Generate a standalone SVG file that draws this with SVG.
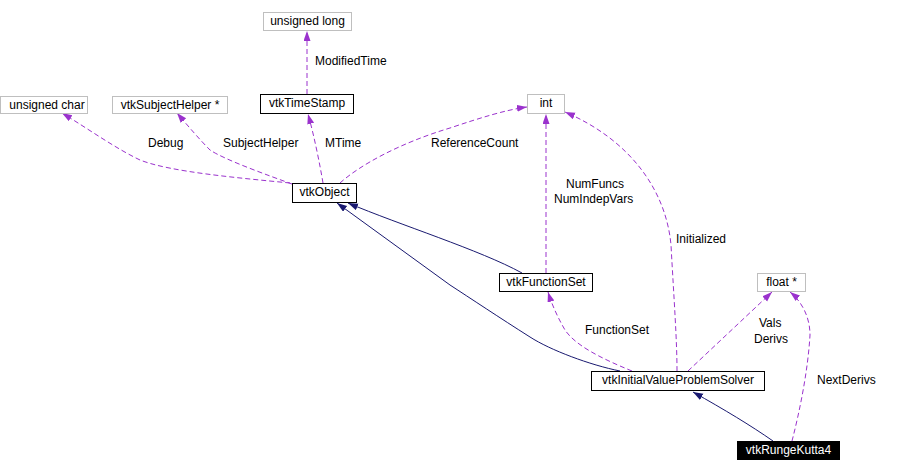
<svg xmlns="http://www.w3.org/2000/svg" width="902" height="472" viewBox="0 0 902 472">
<style>
text{font-family:"Liberation Sans",Arial,sans-serif;font-size:12px;fill:#000}
.c{text-anchor:middle}
.g{fill:#fff;stroke:#bfbfbf;stroke-width:1}
.b{fill:#fff;stroke:#000;stroke-width:1}
.d{fill:none;stroke:#9a32cd;stroke-width:1;stroke-dasharray:5,3;marker-end:url(#ap)}
.s{fill:none;stroke:#191970;stroke-width:1;marker-end:url(#an)}
</style>
<defs>
<marker id="ap" markerUnits="userSpaceOnUse" markerWidth="11" markerHeight="8" refX="10" refY="3.5" orient="auto"><path d="M0,0 L10,3.5 L0,7 z" fill="#9a32cd"/></marker>
<marker id="an" markerUnits="userSpaceOnUse" markerWidth="11" markerHeight="8" refX="10" refY="3.5" orient="auto"><path d="M0,0 L10,3.5 L0,7 z" fill="#191970"/></marker>
</defs>
<rect width="902" height="472" fill="#fff"/>
<g id="edges">
<path class="d" d="M307,94 L307,31"/>
<path class="d" d="M290,183 C240,178 170,172 140,160 C115,148 90,130 62,113"/>
<path class="d" d="M292,184 C270,176 225,160 210,150 C200,140 188,126 177,113"/>
<path class="d" d="M323,183 C320,165 314,135 308,114"/>
<path class="d" d="M340,183 C360,165 400,143 450,128 C480,118 505,110 527,107"/>
<path class="d" d="M546,273 L546,114"/>
<path class="d" d="M677,371 C677,340 674,300 671,245 C666,190 630,140 565,112"/>
<path class="d" d="M632,371 C600,358 575,345 565,330 C558,318 552,305 548,292"/>
<path class="d" d="M688,371 L772,292"/>
<path class="d" d="M792,441 C800,410 808,370 810,335 C810,315 800,300 790,292"/>
<path class="s" d="M522,273 C480,250 400,225 348,203"/>
<path class="s" d="M620,371 C590,365 550,350 530,337 C500,318 470,298 450,285 L337,203"/>
<path class="s" d="M773,441 C750,425 725,410 693,392"/>
<text x="315" y="65">ModifiedTime</text>
<text x="148" y="147">Debug</text>
<text x="223" y="147">SubjectHelper</text>
<text x="325" y="147">MTime</text>
<text x="431" y="147">ReferenceCount</text>
<text x="566" y="188">NumFuncs</text>
<text x="554" y="203">NumIndepVars</text>
<text x="676" y="243">Initialized</text>
<text x="585" y="334">FunctionSet</text>
<text x="759" y="327">Vals</text>
<text x="754" y="343">Derivs</text>
<text x="817" y="384">NextDerivs</text>
</g>
<g id="unsigned_long"><rect class="g" x="263.5" y="12.5" width="88" height="18"/><text class="c" x="307.5" y="25">unsigned long</text></g>
<g id="unsigned_char"><rect class="g" x="0.5" y="96.5" width="87" height="17"/><text class="c" x="47" y="109">unsigned char</text></g>
<g id="vtkSubjectHelper"><rect class="g" x="112.5" y="96.5" width="115" height="17"/><text class="c" x="170" y="109">vtkSubjectHelper *</text></g>
<g id="vtkTimeStamp"><rect class="b" x="260.5" y="94.5" width="93" height="19"/><text class="c" x="307" y="107">vtkTimeStamp</text></g>
<g id="int"><rect class="g" x="527.5" y="94.5" width="37" height="19"/><text class="c" x="546" y="107">int</text></g>
<g id="vtkObject"><rect class="b" x="292.5" y="183.5" width="64" height="19"/><text class="c" x="324.5" y="196">vtkObject</text></g>
<g id="vtkFunctionSet"><rect class="b" x="499.5" y="273.5" width="93" height="18"/><text class="c" x="546" y="286">vtkFunctionSet</text></g>
<g id="float_ptr"><rect class="g" x="757.5" y="273.5" width="48" height="18"/><text class="c" x="781.5" y="286">float *</text></g>
<g id="vtkInitialValueProblemSolver"><rect class="b" x="591.5" y="371.5" width="173" height="19"/><text class="c" x="678" y="384">vtkInitialValueProblemSolver</text></g>
<g id="vtkRungeKutta4"><rect x="737" y="441" width="103" height="19" fill="#000"/><text class="c" x="788.5" y="454" style="fill:#fff">vtkRungeKutta4</text></g>
</svg>
